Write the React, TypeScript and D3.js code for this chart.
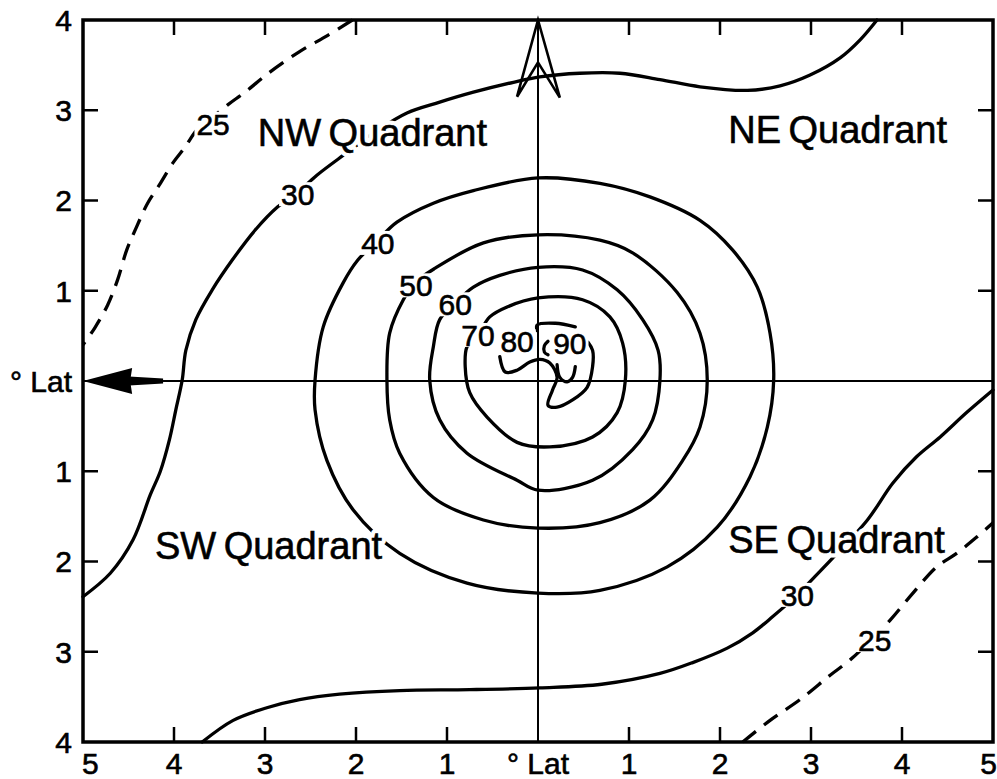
import React from "react";
import * as d3 from "d3";

type P = [number, number];

// ---- axis ticks (degrees of latitude from storm centre) ----
const xTickValues = [-5, -4, -3, -2, -1, 0, 1, 2, 3, 4, 5];
const xTickLabels = ["5", "4", "3", "2", "1", "° Lat", "1", "2", "3", "4", "5"];
const yTickValues = [4, 3, 2, 1, 0, -1, -2, -3, -4];
const yTickLabels = ["4", "3", "2", "1", "° Lat", "1", "2", "3", "4"];

// ---- isotachs (wind speed contours), points in degrees ----
const contour25NW: P[] = [
  [-2.04, 4.0], [-2.31, 3.83], [-2.62, 3.65], [-2.95, 3.42], [-3.22, 3.2],
  [-3.41, 3.06], [-3.58, 2.92], [-3.75, 2.78], [-3.88, 2.59], [-4.01, 2.42],
  [-4.15, 2.19], [-4.29, 1.97], [-4.41, 1.71], [-4.52, 1.45], [-4.62, 1.12],
  [-4.73, 0.84], [-4.87, 0.59], [-5.0, 0.4],
];
const contour25SE: P[] = [
  [2.25, -4.0], [2.55, -3.76], [2.88, -3.53], [3.21, -3.26], [3.43, -3.09],
  [3.65, -2.88], [3.87, -2.65], [4.12, -2.35], [4.38, -2.06], [4.6, -1.91],
  [4.82, -1.73], [5.0, -1.57],
];
const contour30North: P[] = [
  [3.725, 4.0], [3.54, 3.78], [3.32, 3.58], [2.99, 3.39], [2.66, 3.27],
  [2.3, 3.22], [1.78, 3.26], [1.34, 3.34], [0.9, 3.41], [0.46, 3.41],
  [0.02, 3.37], [-0.27, 3.31], [-0.71, 3.2], [-1.08, 3.09], [-1.44, 2.97],
  [-1.79, 2.76], [-2.1, 2.53], [-2.43, 2.28], [-2.64, 2.09], [-2.86, 1.93],
  [-3.11, 1.67], [-3.36, 1.34], [-3.58, 1.01], [-3.76, 0.68], [-3.87, 0.34],
  [-3.91, 0.01], [-3.98, -0.32], [-4.05, -0.65], [-4.15, -1.0], [-4.26, -1.26],
  [-4.45, -1.76], [-4.7, -2.13], [-5.0, -2.39],
];
const contour30South: P[] = [
  [-3.69, -4.0], [-3.35, -3.76], [-2.98, -3.62], [-2.62, -3.53], [-2.18, -3.47],
  [-1.52, -3.43], [-0.75, -3.42], [0.02, -3.4], [0.7, -3.36], [1.34, -3.24],
  [1.7, -3.12], [2.08, -2.96], [2.36, -2.79], [2.58, -2.61], [2.85, -2.37],
  [3.04, -2.17], [3.24, -1.96], [3.62, -1.54], [3.9, -1.13], [4.16, -0.84],
  [4.42, -0.62], [4.71, -0.35], [5.0, -0.1],
];
const contour40: P[] = [
  [-1.55, 1.76], [-1.15, 1.97], [-0.71, 2.11], [0.0, 2.25], [0.68, 2.19],
  [1.23, 2.04], [1.78, 1.78], [2.14, 1.45], [2.41, 1.04], [2.55, 0.53],
  [2.59, 0.01], [2.52, -0.51], [2.33, -1.06], [1.97, -1.62], [1.42, -2.06],
  [0.68, -2.32], [0.0, -2.35], [-0.78, -2.24], [-1.52, -1.91], [-2.03, -1.43],
  [-2.32, -0.88], [-2.45, -0.32], [-2.45, 0.01], [-2.36, 0.6], [-2.14, 1.09],
  [-1.98, 1.34], [-1.76, 1.56],
];
const contour50: P[] = [
  [-1.13, 1.25], [-0.6, 1.53], [0.0, 1.62], [0.68, 1.56], [1.04, 1.42],
  [1.53, 0.98], [1.78, 0.53], [1.86, 0.01], [1.78, -0.51], [1.59, -0.88],
  [1.23, -1.32], [0.68, -1.57], [0.0, -1.63], [-0.6, -1.54], [-1.15, -1.29],
  [-1.52, -0.8], [-1.63, -0.43], [-1.66, 0.01], [-1.63, 0.53], [-1.48, 0.9],
  [-1.35, 1.09],
];
const contour60: P[] = [
  [-0.71, 1.04], [-0.42, 1.17], [0.0, 1.26], [0.49, 1.23], [0.87, 1.01],
  [1.15, 0.68], [1.32, 0.34], [1.34, 0.01], [1.26, -0.43], [1.04, -0.76],
  [0.6, -1.1], [0.0, -1.21], [-0.23, -1.1], [-0.78, -0.8], [-1.08, -0.43],
  [-1.19, 0.01], [-1.15, 0.38], [-1.08, 0.68], [-0.91, 0.86],
];
const contour70: P[] = [
  [-0.53, 0.71], [-0.34, 0.82], [0.0, 0.92], [0.49, 0.9], [0.79, 0.71],
  [0.93, 0.42], [0.96, 0.01], [0.87, -0.35], [0.6, -0.62], [0.13, -0.73],
  [-0.23, -0.68], [-0.56, -0.4], [-0.75, -0.13], [-0.8, 0.16], [-0.78, 0.38],
  [-0.66, 0.51],
];
const contour80: P[] = [
  [-0.42, 0.27], [-0.36, 0.1], [-0.23, 0.12], [-0.09, 0.21], [0.02, 0.24],
  [0.13, 0.2], [0.21, 0.04], [0.16, -0.1], [0.11, -0.27], [0.21, -0.29],
  [0.38, -0.21], [0.54, -0.07], [0.6, 0.16], [0.6, 0.34], [0.55, 0.43],
];
const contour80Cap: P[] = [[-0.01, 0.56], [-0.01, 0.62], [0.19, 0.64], [0.41, 0.6]];
const contour90Hook: P[] = [[0.11, 0.44], [0.07, 0.39], [0.07, 0.32], [0.11, 0.29]];
const contour90: P[] = [[0.21, 0.18], [0.24, 0.04], [0.32, -0.01], [0.38, 0.04], [0.41, 0.16]];

const solidOpen: P[][] = [contour30North, contour30South, contour80, contour80Cap, contour90Hook, contour90];
const solidClosed: P[][] = [contour40, contour50, contour60, contour70];
const dashedOpen: P[][] = [contour25NW, contour25SE];

// ---- contour labels ----
const contourLabels = [
  { text: "25", x: -3.57, y: 2.85 },
  { text: "30", x: -2.64, y: 2.07 },
  { text: "40", x: -1.76, y: 1.53 },
  { text: "50", x: -1.34, y: 1.06 },
  { text: "60", x: -0.91, y: 0.85 },
  { text: "70", x: -0.66, y: 0.51 },
  { text: "80", x: -0.23, y: 0.44 },
  { text: "90", x: 0.35, y: 0.42 },
  { text: "30", x: 2.85, y: -2.37 },
  { text: "25", x: 3.7, y: -2.87 },
];

// ---- quadrant annotations (start x, baseline y) ----
const quadrantLabels = [
  { dir: "NW", x: -3.08, y: 2.6 },
  { dir: "NE", x: 2.09, y: 2.64 },
  { dir: "SW", x: -4.21, y: -1.97 },
  { dir: "SE", x: 2.09, y: -1.91 },
];
const quadrantWord = "Quadrant";

// ---- direction arrows ----
const northArrow: P[] = [[0, 4.0], [-0.23, 3.15], [0, 3.53], [0.24, 3.14]];
const westArrow = { tip: -5, headEnd: -4.46, shaftEnd: -4.12 };

const FONT = "'Liberation Sans', Arial, Helvetica, sans-serif";

export default function App() {
  const W = 997;
  const H = 779;
  const x = d3.scaleLinear().domain([-5, 5]).range([83, 993]);
  const y = d3.scaleLinear().domain([-4, 4]).range([742, 20]);

  const openLine = d3
    .line<P>()
    .x((d) => x(d[0]))
    .y((d) => y(d[1]))
    .curve(d3.curveCatmullRom.alpha(0.5));
  const closedLine = d3
    .line<P>()
    .x((d) => x(d[0]))
    .y((d) => y(d[1]))
    .curve(d3.curveCatmullRomClosed.alpha(0.5));

  const x0 = x(0);
  const y0 = y(0);
  const [xl, xr] = x.range();
  const [yb, yt] = y.range();
  const tickLen = 15;

  const arrowHead = [
    [x(westArrow.tip), y0],
    [x(westArrow.headEnd), y0 - 13],
    [x(westArrow.headEnd) - 2, y0],
    [x(westArrow.headEnd), y0 + 13],
  ];
  const arrowShaft = [
    [x(westArrow.headEnd) - 3, y0 - 4.5],
    [x(westArrow.shaftEnd), y0 - 2.5],
    [x(westArrow.shaftEnd), y0 + 2.5],
    [x(westArrow.headEnd) - 3, y0 + 4.5],
  ];

  const labelFs = 30;
  const tickFs = 30;
  const quadFs = 38;
  const ink = { fill: "#000", stroke: "#000", strokeWidth: 0.6 };

  const xLabelAnchor = (i: number) =>
    i === 0 ? "start" : i === xTickValues.length - 1 ? "end" : "middle";
  const xLabelPos = (v: number, i: number) =>
    i === 0 ? x(v) - 1 : i === xTickValues.length - 1 ? W : x(v);

  return (
    <svg
      width={W}
      height={H}
      viewBox={`0 0 ${W} ${H}`}
      style={{ position: "absolute", left: 0, top: 0, background: "#fff" }}
      fontFamily={FONT}
    >
      <rect x={0} y={0} width={W} height={H} fill="#fff" />

      {/* centre cross */}
      <line x1={xl} x2={xr} y1={y0} y2={y0} stroke="#000" strokeWidth={2} />
      <line x1={x0} x2={x0} y1={yt} y2={yb} stroke="#000" strokeWidth={2} />

      {/* contours */}
      <g fill="none" stroke="#000" strokeLinecap="round" strokeLinejoin="round">
        {solidClosed.map((c, i) => (
          <path key={`c${i}`} d={closedLine(c) || ""} strokeWidth={3.3} />
        ))}
        {solidOpen.map((c, i) => (
          <path key={`o${i}`} d={openLine(c) || ""} strokeWidth={3.3} />
        ))}
        {dashedOpen.map((c, i) => (
          <path
            key={`d${i}`}
            d={openLine(c) || ""}
            strokeWidth={3.3}
            strokeDasharray="17 10"
            strokeLinecap="butt"
          />
        ))}
      </g>

      {/* contour labels */}
      {contourLabels.map((l, i) => {
        const w = l.text.length * 0.556 * labelFs + 4;
        const h = labelFs * 0.8;
        return (
          <g key={`l${i}`}>
            <rect x={x(l.x) - w / 2} y={y(l.y) - h / 2} width={w} height={h} fill="#fff" />
            <text
              x={x(l.x)}
              y={y(l.y)}
              dy="0.36em"
              textAnchor="middle"
              fontSize={labelFs}
              {...ink}
            >
              {l.text}
            </text>
          </g>
        );
      })}

      {/* quadrant labels (white halo interrupts contours beneath) */}
      {quadrantLabels.map((q, i) => (
        <g key={`q${i}`}>
          <text
            x={x(q.x)}
            y={y(q.y)}
            fontSize={quadFs}
            fill="#fff"
            stroke="#fff"
            strokeWidth={9}
            strokeLinejoin="round"
          >
            {q.dir}
            <tspan dx={-3}> {quadrantWord}</tspan>
          </text>
          <text x={x(q.x)} y={y(q.y)} fontSize={quadFs} {...ink}>
            {q.dir}
            <tspan dx={-3}> {quadrantWord}</tspan>
          </text>
        </g>
      ))}

      {/* north arrow */}
      <polygon
        points={northArrow.map((p) => `${x(p[0])},${y(p[1])}`).join(" ")}
        fill="none"
        stroke="#000"
        strokeWidth={2.6}
        strokeLinejoin="miter"
      />

      {/* west (motion) arrow */}
      <polygon points={arrowHead.map((p) => p.join(",")).join(" ")} fill="#000" />
      <polygon points={arrowShaft.map((p) => p.join(",")).join(" ")} fill="#000" />

      {/* frame */}
      <rect
        x={xl}
        y={yt}
        width={xr - xl}
        height={yb - yt}
        fill="none"
        stroke="#000"
        strokeWidth={3.5}
      />

      {/* inward ticks */}
      <g stroke="#000" strokeWidth={2.5}>
        {xTickValues
          .filter((v) => v !== 0 && Math.abs(v) !== 5)
          .map((v) => (
            <g key={`xt${v}`}>
              <line x1={x(v)} x2={x(v)} y1={yt} y2={yt + tickLen} />
              <line x1={x(v)} x2={x(v)} y1={yb} y2={yb - tickLen} />
            </g>
          ))}
        {yTickValues
          .filter((v) => v !== 0 && Math.abs(v) !== 4)
          .map((v) => (
            <g key={`yt${v}`}>
              <line x1={xl} x2={xl + tickLen} y1={y(v)} y2={y(v)} />
              <line x1={xr} x2={xr - tickLen} y1={y(v)} y2={y(v)} />
            </g>
          ))}
      </g>

      {/* tick labels */}
      {xTickValues.map((v, i) => (
        <text
          key={`xl${v}`}
          x={xLabelPos(v, i)}
          y={774}
          textAnchor={xLabelAnchor(i)}
          fontSize={tickFs}
          {...ink}
        >
          {xTickLabels[i]}
        </text>
      ))}
      {yTickValues.map((v, i) => (
        <text
          key={`yl${v}`}
          x={72}
          y={y(v)}
          dy="0.36em"
          textAnchor="end"
          fontSize={tickFs}
          {...ink}
        >
          {yTickLabels[i]}
        </text>
      ))}
    </svg>
  );
}
